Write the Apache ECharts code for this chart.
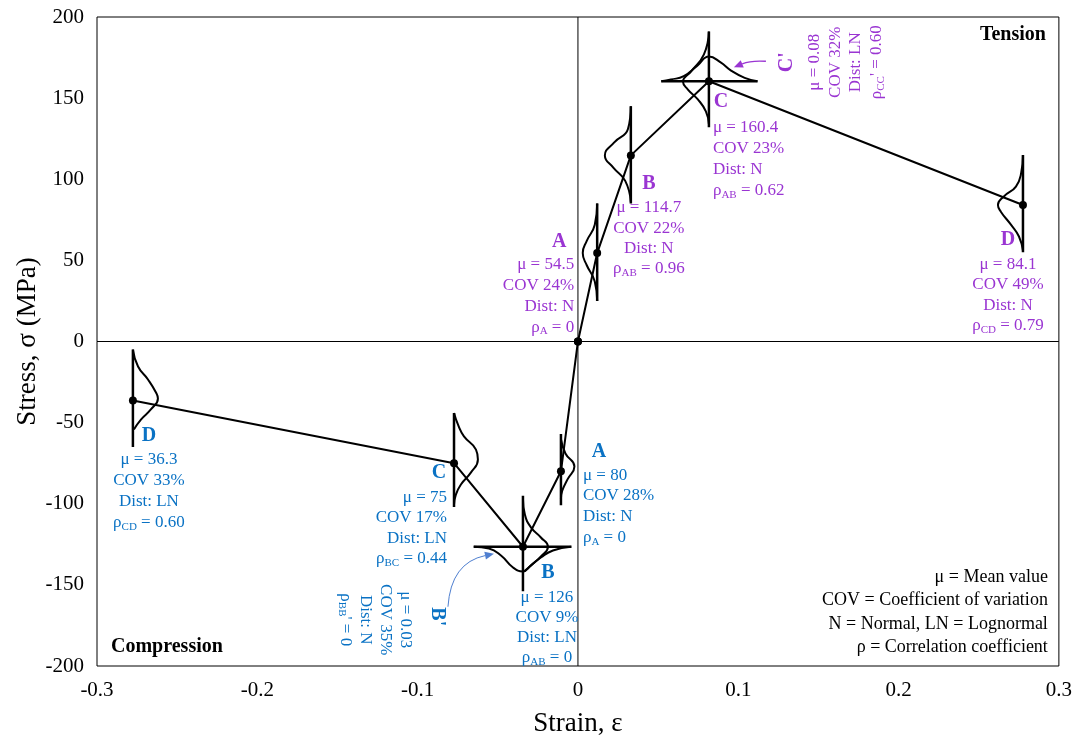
<!DOCTYPE html>
<html><head><meta charset="utf-8">
<script src="https://cdn.jsdelivr.net/npm/echarts@6/dist/echarts.min.js"></script>
<style>html,body{margin:0;padding:0;background:#fff}#c{width:1075px;height:742px}</style>
</head><body><div id="c"></div>
<script>
// ---------------- data ----------------
const xTicks = [-0.3, -0.2, -0.1, 0, 0.1, 0.2, 0.3];
const yTicks = [-200, -150, -100, -50, 0, 50, 100, 150, 200];

const strainTension = [0, 0.012, 0.033, 0.0817, 0.2776];
const stressTension = [0, 54.5, 114.7, 160.4, 84.1];
const strainCompression = [0, -0.0106, -0.0343, -0.0773, -0.2776];
const stressCompression = [0, -80, -126.5, -75, -36.3];

// stress extent of the vertical distribution axes at A, B, C, D
const barsTension = [[25, 85], [85, 145], [132, 191], [55, 115]];
const barsCompression = [[-57, -101], [-95, -154], [-44, -102], [-5, -65]];
// strain extent of the horizontal distribution axes (C' and B')
const barStrainCp = [0.052, 0.112];
const barStrainBp = [-0.065, -0.004];

// distribution curves: [strain, stress]
const pdfTA = [[0.012,85],[0.0105,72],[0.0055,62],[0.003,54.5],[0.0055,47],[0.0105,37],[0.012,25]];
const pdfTB = [[0.033,145],[0.0312,131],[0.0225,122.6],[0.0168,114.7],[0.0222,107],[0.0295,99],[0.033,86]];
const pdfTC = [[0.0817,191],[0.0786,177],[0.0705,166.4],[0.0655,160.2],[0.0686,155.3],[0.0748,149.2],[0.0798,141.8],[0.0817,134]];
const pdfTD = [[0.2776,115],[0.2765,104],[0.2732,95.5],[0.2657,89.4],[0.262,84.1],[0.2638,80],[0.2701,72],[0.2751,64.7],[0.2776,56]];
const pdfCp = [[0.052,160.4],[0.058,161.5],[0.066,163.5],[0.0745,170],[0.0817,175.6],[0.089,172],[0.0955,167],[0.104,162.5],[0.112,160.4]];
const pdfCA = [[-0.0106,-60],[-0.0078,-69],[-0.0022,-77],[-0.0065,-85],[-0.0098,-92],[-0.0106,-97]];
const pdfCB = [[-0.0343,-97],[-0.0331,-106.6],[-0.0293,-114.6],[-0.0231,-120.8],[-0.0187,-126.5],[-0.0231,-132.5],[-0.0293,-138],[-0.0337,-141.7]];
const pdfCC = [[-0.0773,-44],[-0.0745,-52],[-0.0711,-58.5],[-0.0636,-66.6],[-0.0624,-72.7],[-0.0667,-80.7],[-0.073,-88.1],[-0.0761,-94.3],[-0.0773,-100.5]];
const pdfCD = [[-0.2776,-5],[-0.2744,-15.4],[-0.2682,-23.4],[-0.2632,-31.4],[-0.262,-35.1],[-0.2664,-41.9],[-0.2726,-48.1],[-0.277,-54.2]];
const pdfBp = [[-0.065,-126.5],[-0.0555,-127.6],[-0.048,-131.9],[-0.0405,-139.3],[-0.0343,-141.7],[-0.0293,-138],[-0.0231,-133.1],[-0.0156,-128.8],[-0.0044,-126.5]];

// annotation texts
const namesPts = ['A', 'B', 'C', 'D'];
const infoTension = [
  ['μ = 54.5', 'COV 24%', 'Dist: N', 'ρ_A = 0'],
  ['μ = 114.7', 'COV 22%', 'Dist: N', 'ρ_AB = 0.96'],
  ['μ = 160.4', 'COV 23%', 'Dist: N', 'ρ_AB = 0.62'],
  ['μ = 84.1', 'COV 49%', 'Dist: N', 'ρ_CD = 0.79']
];
const infoCompression = [
  ['μ = 80', 'COV 28%', 'Dist: N', 'ρ_A = 0'],
  ['μ = 126', 'COV 9%', 'Dist: LN', 'ρ_AB = 0'],
  ['μ = 75', 'COV 17%', 'Dist: LN', 'ρ_BC = 0.44'],
  ['μ = 36.3', 'COV 33%', 'Dist: LN', 'ρ_CD = 0.60']
];
const infoCp = ['μ = 0.08', 'COV 32%', 'Dist: LN', "ρ_CC' = 0.60"];
const infoBp = ['μ = 0.03', 'COV 35%', 'Dist: N', "ρ_BB' = 0"];
const legendLines = ['μ = Mean value', 'COV = Coefficient of variation', 'N = Normal, LN = Lognormal', 'ρ = Correlation coefficient'];

// ---------------- styles ----------------
const FONT = '"Liberation Serif", "Times New Roman", serif';
const PURPLE = '#9a35d2';
const BLUE = '#0a72c4';
const ARROWBLUE = '#4f7fd0';

function lineSeries(data, width, smooth, z) {
  return { type: 'line', data: data, symbol: 'none', smooth: smooth || false,
    lineStyle: { color: '#000', width: width }, silent: true, animation: false, z: z || 2 };
}
const series = [];
series.push(lineSeries([[0, -200], [0, 200]], 1, false, 1));
series.push(lineSeries([[-0.3, 0], [0.3, 0]], 1, false, 1));
[pdfTA, pdfTB, pdfTC, pdfTD, pdfCp, pdfCA, pdfCB, pdfCC, pdfCD, pdfBp].forEach(c => series.push(lineSeries(c, 2, 0.5, 3)));
barsTension.forEach((b, i) => series.push(lineSeries([[strainTension[i + 1], b[0]], [strainTension[i + 1], b[1]]], 2.5, false, 3)));
barsCompression.forEach((b, i) => series.push(lineSeries([[strainCompression[i + 1], b[0]], [strainCompression[i + 1], b[1]]], 2.5, false, 3)));
series.push(lineSeries([[barStrainCp[0], stressTension[3]], [barStrainCp[1], stressTension[3]]], 2.5, false, 3));
series.push(lineSeries([[barStrainBp[0], stressCompression[2]], [barStrainBp[1], stressCompression[2]]], 2.5, false, 3));
function pathSeries(xs, ys) {
  return { type: 'line', data: xs.map((x, i) => [x, ys[i]]), symbol: 'circle', symbolSize: 8, showAllSymbol: true,
    itemStyle: { color: '#000' }, lineStyle: { color: '#000', width: 2 }, silent: true, animation: false, z: 5 };
}
series.push(pathSeries(strainTension, stressTension));
series.push(pathSeries(strainCompression, stressCompression));

const option = {
  backgroundColor: '#fff',
  animation: false,
  grid: { left: 97, right: 16, top: 17, bottom: 76, show: true, borderColor: '#000', borderWidth: 1, containLabel: false },
  xAxis: {
    type: 'value', min: xTicks[0], max: xTicks[xTicks.length - 1], interval: 0.1,
    axisLine: { show: false }, axisTick: { show: false }, splitLine: { show: false },
    axisLabel: { margin: 14, color: '#000', fontFamily: FONT, fontSize: 21, formatter: v => String(Math.round(v * 10) / 10) },
    name: 'Strain, ε', nameLocation: 'middle', nameGap: 44, nameMoveOverlap: false,
    nameTextStyle: { color: '#000', fontFamily: FONT, fontSize: 27 }
  },
  yAxis: {
    type: 'value', min: yTicks[0], max: yTicks[yTicks.length - 1], interval: 50,
    axisLine: { show: false }, axisTick: { show: false }, splitLine: { show: false },
    axisLabel: { margin: 13, color: '#000', fontFamily: FONT, fontSize: 21 },
    name: 'Stress, σ (MPa)', nameLocation: 'middle', nameGap: 56, nameRotate: 90, nameMoveOverlap: false,
    nameTextStyle: { color: '#000', fontFamily: FONT, fontSize: 27 }
  },
  series: series
};

const chart = echarts.init(document.getElementById('c'));
chart.setOption(option);
const P = (x, y) => chart.convertToPixel({ gridIndex: 0 }, [x, y]);

// ---------------- annotations ----------------
const graphics = [];
function richLine(str, color, size) {
  const m = str.match(/^(.*?)_([A-Z]+)(.*)$/);
  const rich = {
    n: { fontFamily: FONT, fontSize: size, fill: color, lineHeight: 20, verticalAlign: 'middle' },
    s: { fontFamily: FONT, fontSize: Math.round(size * 0.66), fill: color, lineHeight: 12, verticalAlign: 'bottom' }
  };
  if (!m) return { text: '{n|' + str + '}', rich };
  return { text: '{n|' + m[1] + '}{s|' + m[2] + '}{n|' + m[3] + '}', rich };
}
function addText(x, y, str, o) {
  const r = richLine(str, o.color, o.size || 17);
  const style = { text: o.bold ? str : r.text, fill: o.color, align: o.align || 'center', verticalAlign: 'middle',
    fontFamily: FONT, fontSize: o.size || 17, fontWeight: o.bold ? 'bold' : 'normal' };
  if (!o.bold) style.rich = r.rich;
  graphics.push({ type: 'text', x: x, y: y, rotation: o.rot || 0, silent: true, z: 100, style: style });
}
function addBlock(base, dx, dy, lines, o) {
  const rot = o.rot || 0, lh = o.lh || 21;
  const dv = [Math.sin(rot), Math.cos(rot)];
  lines.forEach((s, i) => addText(base[0] + dx + dv[0] * lh * i, base[1] + dy + dv[1] * lh * i, s, o));
}
function addArrow(base, tail, ctrl, head, color, width) {
  const t = [base[0] + tail[0], base[1] + tail[1]], c = [base[0] + ctrl[0], base[1] + ctrl[1]], h = [base[0] + head[0], base[1] + head[1]];
  const ang = Math.atan2(h[1] - c[1], h[0] - c[0]);
  const L = 9, W = 4;
  const bx = h[0] - L * Math.cos(ang), by = h[1] - L * Math.sin(ang);
  graphics.push({ type: 'bezierCurve', silent: true, z: 100,
    shape: { x1: t[0], y1: t[1], cpx1: c[0], cpy1: c[1], x2: bx, y2: by },
    style: { stroke: color, lineWidth: width, fill: null } });
  graphics.push({ type: 'polygon', silent: true, z: 100,
    shape: { points: [h, [bx - W * Math.sin(ang), by + W * Math.cos(ang)], [bx + W * Math.sin(ang), by - W * Math.cos(ang)]] },
    style: { fill: color } });
}

const tp = strainTension.map((x, i) => P(x, stressTension[i]));
const cp = strainCompression.map((x, i) => P(x, stressCompression[i]));

const layT = [
  [[-38, -11], [-23, 11], 'right', 21],
  [[18, 28], [18, 52.5], 'center', 20.3],
  [[12, 21], [4, 46], 'left', 21],
  [[-15, 35], [-15, 59], 'center', 20.5]
];
layT.forEach((l, i) => {
  const b = tp[i + 1];
  addText(b[0] + l[0][0], b[1] + l[0][1], namesPts[i], { color: PURPLE, bold: true, size: 20 });
  addBlock(b, l[1][0], l[1][1], infoTension[i], { color: PURPLE, align: l[2], lh: l[3] });
});
const layC = [
  [[38, -19], [22, 4], 'left', 20.7],
  [[25, 26], [24, 51], 'center', 20],
  [[-15, 10], [-7, 34], 'right', 20.5],
  [[16, 35], [16, 59], 'center', 21]
];
layC.forEach((l, i) => {
  const b = cp[i + 1];
  addText(b[0] + l[0][0], b[1] + l[0][1], namesPts[i], { color: BLUE, bold: true, size: 20 });
  addBlock(b, l[1][0], l[1][1], infoCompression[i], { color: BLUE, align: l[2], lh: l[3] });
});
addText(tp[3][0] + 78, tp[3][1] - 19, "C'", { color: PURPLE, bold: true, size: 20, rot: Math.PI / 2 });
addBlock(tp[3], 106, -19, infoCp, { color: PURPLE, align: 'center', lh: 20.5, rot: Math.PI / 2 });
addArrow(tp[3], [57, -20], [42, -21], [25, -14], PURPLE, 1.3);
addText(cp[2][0] - 86, cp[2][1] + 70, "B'", { color: BLUE, bold: true, size: 20, rot: -Math.PI / 2 });
addBlock(cp[2], -117, 73, infoBp, { color: BLUE, align: 'center', lh: 20, rot: -Math.PI / 2 });
addArrow(cp[2], [-75, 60], [-72, 16], [-29, 7], ARROWBLUE, 1);

const tr = P(xTicks[xTicks.length - 1], yTicks[yTicks.length - 1]);
const bl = P(xTicks[0], yTicks[0]);
const br = P(xTicks[xTicks.length - 1], yTicks[0]);
addText(tr[0] - 13, tr[1] + 18, 'Tension', { color: '#000', bold: true, size: 20, align: 'right' });
addText(bl[0] + 14, bl[1] - 19, 'Compression', { color: '#000', bold: true, size: 20, align: 'left' });
addBlock(br, -11, -89, legendLines, { color: '#000', align: 'right', lh: 23.5, size: 18 });

chart.setOption({ graphic: graphics });
</script></body></html>
